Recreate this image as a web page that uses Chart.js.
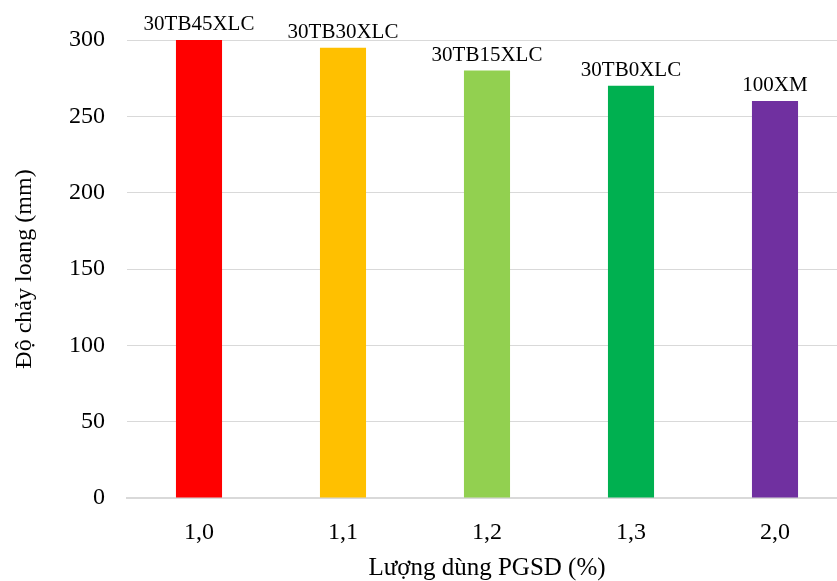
<!DOCTYPE html>
<html>
<head>
<meta charset="utf-8">
<script src="https://cdn.jsdelivr.net/npm/chart.js@4/dist/chart.umd.min.js"></script>
<style>
  html, body { margin: 0; padding: 0; background: #fff; overflow: hidden; }
  #wrap { width: 860px; height: 581px; }
</style>
</head>
<body>
<div id="wrap"><canvas id="chart" width="860" height="581"></canvas></div>
<script>
const categories = ["1,0", "1,1", "1,2", "1,3", "2,0"];
const mixNames = ["30TB45XLC", "30TB30XLC", "30TB15XLC", "30TB0XLC", "100XM"];
const flowValues = [300, 295, 280, 270, 260];
const barColors = ["#ff0000", "#ffc000", "#92d050", "#00b050", "#7030a0"];
const yTicks = [0, 50, 100, 150, 200, 250, 300];

const serif = "'Liberation Serif', 'Times New Roman', serif";

// names above each bar
const barNames = {
  id: "barNames",
  afterDatasetsDraw(chart) {
    const ctx = chart.ctx;
    const meta = chart.getDatasetMeta(0);
    ctx.save();
    ctx.font = "21px " + serif;
    ctx.fillStyle = "#000";
    ctx.textAlign = "center";
    ctx.textBaseline = "bottom";
    meta.data.forEach((bar, i) => {
      ctx.fillText(mixNames[i], bar.x, bar.y - 5);
    });
    ctx.restore();
  }
};

new Chart(document.getElementById("chart"), {
  type: "bar",
  data: {
    labels: categories,
    datasets: [{
      data: flowValues,
      backgroundColor: barColors,
      barPercentage: 0.32,
      categoryPercentage: 1
    }]
  },
  options: {
    responsive: false,
    animation: false,
    layout: { padding: { top: 40, right: 13, left: 0, bottom: 0 } },
    plugins: { legend: { display: false }, tooltip: { enabled: false } },
    scales: {
      x: {
        grid: { display: false },
        border: { color: "#d9d9d9", width: 2 },
        ticks: { color: "#000", font: { family: serif, size: 24 }, padding: 12 },
        title: {
          display: true,
          text: "Lượng dùng PGSD (%)",
          color: "#000",
          font: { family: serif, size: 25 },
          padding: { top: 0, bottom: -2 }
        },
        afterFit(scale) { scale.height = 83; }
      },
      y: {
        min: 0,
        max: 300,
        afterBuildTicks(scale) { scale.ticks = yTicks.map(v => ({ value: v })); },
        grid: { color: "#d9d9d9", drawTicks: false },
        border: { display: false },
        ticks: { color: "#000", font: { family: serif, size: 24 }, padding: 22 },
        title: {
          display: true,
          text: "Độ chảy loang (mm)",
          color: "#000",
          font: { family: serif, size: 24 },
          padding: { top: 10, bottom: 0 }
        },
        afterFit(scale) { scale.width = 127; }
      }
    }
  },
  plugins: [barNames]
});
</script>
</body>
</html>
